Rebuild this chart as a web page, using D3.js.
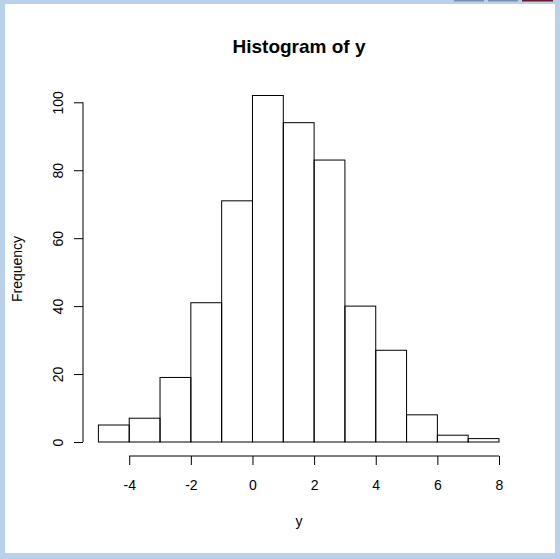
<!DOCTYPE html>
<html>
<head>
<meta charset="utf-8">
<script src="https://cdn.jsdelivr.net/npm/d3@7"></script>
<style>
  html, body { margin: 0; padding: 0; background: #b9d1ea; }
  svg { display: block; }
  text { font-family: "Liberation Sans", Arial, sans-serif; fill: #000; }
</style>
</head>
<body>
<script>
// ---- data ----
const binEdges = [-5, -4, -3, -2, -1, 0, 1, 2, 3, 4, 5, 6, 7, 8];
const counts   = [5, 7, 19, 41, 71, 102, 94, 83, 40, 27, 8, 2, 1];
const xTicks   = [-4, -2, 0, 2, 4, 6, 8];
const yTicks   = [0, 20, 40, 60, 80, 100];
const titleText = "Histogram of y";
const xLabel = "y";
const yLabel = "Frequency";

const W = 560, H = 559;
const svg = d3.select("body").append("svg").attr("width", W).attr("height", H);

// window frame
svg.append("rect").attr("x", 0).attr("y", 0).attr("width", W).attr("height", H).attr("fill", "#b9d1ea");
svg.append("rect").attr("x", 5).attr("y", 4).attr("width", 550).attr("height", 549).attr("fill", "#ffffff");
svg.append("rect").attr("x", 454).attr("y", 0).attr("width", 30).attr("height", 1.5).attr("fill", "#7d8fae");
svg.append("rect").attr("x", 488).attr("y", 0).attr("width", 30).attr("height", 1.5).attr("fill", "#7d8fae");
svg.append("rect").attr("x", 522).attr("y", 0).attr("width", 31).attr("height", 1.5).attr("fill", "#6a1a2a");

// scales
const x = d3.scaleLinear().domain([-5, 8]).range([98.4, 499]);
const y = d3.scaleLinear().domain([0, 100]).range([442, 102.3]);

// bars
const bins = counts.map((c, i) => ({ x0: binEdges[i], x1: binEdges[i + 1], n: c }));
svg.append("g").selectAll("rect").data(bins).join("rect")
  .attr("x", d => x(d.x0))
  .attr("y", d => y(d.n))
  .attr("width", d => x(d.x1) - x(d.x0))
  .attr("height", d => y(0) - y(d.n))
  .attr("fill", "none")
  .attr("stroke", "#000")
  .attr("stroke-width", 1);

// x axis
const xAxisY = 456;
const gx = svg.append("g").attr("transform", `translate(0,${xAxisY})`)
  .call(d3.axisBottom(x).tickValues(xTicks).tickSize(9).tickSizeOuter(0).tickPadding(20)
    .tickFormat(d => d < 0 ? "-" + Math.abs(d) : String(d)));
gx.select(".domain").remove();
gx.append("line").attr("x1", x(xTicks[0])).attr("x2", x(xTicks[xTicks.length - 1]))
  .attr("y1", 0).attr("y2", 0).attr("stroke", "#000");
gx.selectAll(".tick line").attr("stroke", "#000");
gx.selectAll(".tick text").attr("font-size", 14).attr("dy", 0).attr("y", 34)
  .style("font-family", "'Liberation Sans', Arial, sans-serif");

// y axis
const yAxisX = 83;
const gy = svg.append("g").attr("transform", `translate(${yAxisX},0)`)
  .call(d3.axisLeft(y).tickValues(yTicks).tickSize(9).tickSizeOuter(0));
gy.select(".domain").remove();
gy.append("line").attr("x1", 0).attr("x2", 0)
  .attr("y1", y(yTicks[0])).attr("y2", y(yTicks[yTicks.length - 1])).attr("stroke", "#000");
gy.selectAll(".tick line").attr("stroke", "#000");
gy.selectAll(".tick text")
  .attr("font-size", 14)
  .attr("x", null).attr("dy", null)
  .attr("text-anchor", "middle")
  .attr("transform", "translate(-20,0) rotate(-90)")
  .attr("y", 0)
  .style("font-family", "'Liberation Sans', Arial, sans-serif");

// titles
const plotCx = 299, plotCy = 269;
svg.append("text").attr("x", plotCx).attr("y", 53).attr("text-anchor", "middle")
  .attr("font-size", 19).attr("font-weight", "bold").text(titleText);
svg.append("text").attr("x", plotCx).attr("y", 526).attr("text-anchor", "middle")
  .attr("font-size", 14).text(xLabel);
svg.append("text").attr("transform", `translate(22,${plotCy}) rotate(-90)`)
  .attr("text-anchor", "middle").attr("font-size", 14).text(yLabel);
</script>
</body>
</html>
